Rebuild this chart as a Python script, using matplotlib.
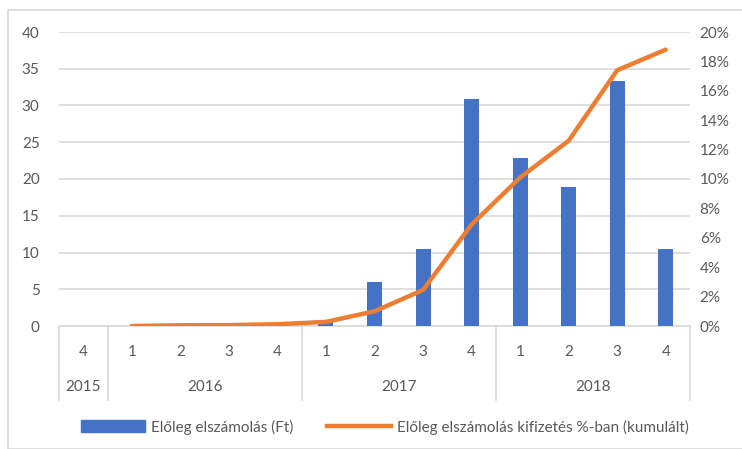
import numpy as np
import matplotlib
matplotlib.use("Agg")
import matplotlib.pyplot as plt
from matplotlib.patches import Rectangle
from matplotlib.lines import Line2D
from matplotlib.transforms import blended_transform_factory

plt.rcParams["font.family"] = ["Lato", "DejaVu Sans"]

# data
quarters = ["4", "1", "2", "3", "4", "1", "2", "3", "4", "1", "2", "3", "4"]
years = ["2015", "2016", "2017", "2018"]
year_spans = [(0, 0), (1, 4), (5, 8), (9, 12)]
elszamolas = [0, 0, 0, 0, 0, 0.8, 6.0, 10.5, 30.9, 22.8, 18.9, 33.3, 10.5]
kumulalt = [np.nan, 0.0, 0.05, 0.06, 0.12, 0.28, 1.0, 2.45, 6.9, 10.1, 12.6, 17.4, 18.8]

blue = "#4472C4"
orange = "#ED7D31"
grid = "#D9D9D9"
txt = "#595959"

fig = plt.figure(figsize=(7.42, 4.49), dpi=100)
fig.patches.append(Rectangle((8 / 742, 0), 1, 1 - 10 / 449, transform=fig.transFigure,
                             fill=False, edgecolor=grid, linewidth=1.2))

ax = fig.add_axes([59 / 742, 1 - 326 / 449, (690 - 59) / 742, (326 - 32) / 449])
x = np.arange(len(quarters))
ax.bar(x, elszamolas, width=0.31, color=blue, zorder=3)
ax.set_xlim(-0.5, len(quarters) - 0.5)
ax.set_ylim(0, 40)
ax.set_yticks(np.arange(0, 41, 5))
ax.yaxis.grid(True, color=grid, linewidth=1.2, zorder=0)
ax.set_axisbelow(True)
for s in ["top", "right", "left"]:
    ax.spines[s].set_visible(False)
ax.spines["bottom"].set_color(grid)
ax.spines["bottom"].set_linewidth(1.2)
ax.tick_params(axis="y", length=0, labelsize=11, labelcolor=txt, pad=14)
ax.set_xticks([])

ax2 = ax.twinx()
ax2.plot(x, kumulalt, color=orange, linewidth=3.2, solid_capstyle="round", zorder=4)
ax2.set_ylim(0, 20)
ax2.set_yticks(np.arange(0, 21, 2))
ax2.set_yticklabels([f"{v}%" for v in range(0, 21, 2)])
ax2.tick_params(axis="y", length=0, labelsize=11, labelcolor=txt, pad=7)
for s in ax2.spines.values():
    s.set_visible(False)

# category axis labels (two levels)
tr = blended_transform_factory(ax.transData, ax.transAxes)
for i, q in enumerate(quarters):
    ax.text(i, -0.088, q, transform=tr, ha="center", va="center", fontsize=11, color=txt)
for yr, (a, b) in zip(years, year_spans):
    ax.text((a + b) / 2, -0.207, yr, transform=tr, ha="center", va="center", fontsize=11, color=txt)
for sep in [-0.5, 0.5, 4.5, 8.5, 12.5]:
    ax.plot([sep, sep], [0, -0.252], transform=tr, color=grid, linewidth=1.2, clip_on=False)

handles = [Rectangle((0, 0), 1, 1, color=blue),
           Line2D([0], [0], color=orange, linewidth=3.2)]
labels = ["Előleg elszámolás (Ft)", "Előleg elszámolás kifizetés %-ban (kumulált)"]
fig.legend(handles, labels, loc="center", bbox_to_anchor=(0.519, 1 - 427 / 449), ncol=2,
           frameon=False, fontsize=11, labelcolor=txt, handlelength=4.2, handleheight=0.8,
           columnspacing=2.2, handletextpad=0.4)

fig.savefig("out.png", dpi=100)
